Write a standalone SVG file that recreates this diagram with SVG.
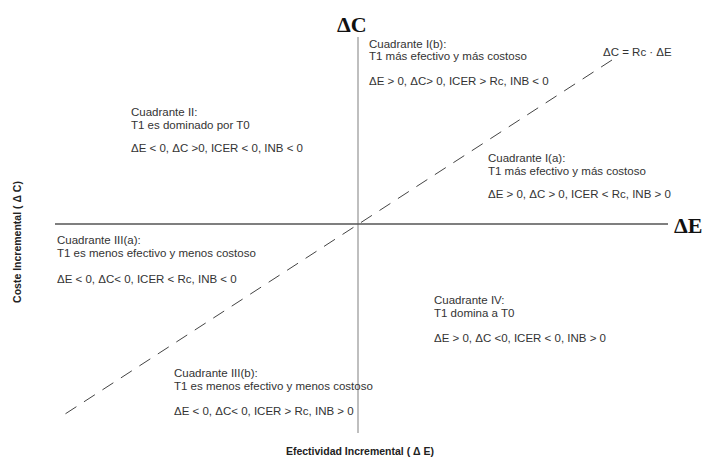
<svg xmlns="http://www.w3.org/2000/svg" width="704" height="459" viewBox="0 0 704 459">
<style>
.t{font-family:"Liberation Sans",Arial,sans-serif;font-size:11.5px;fill:#333}
.big{font-family:"Liberation Serif","Times New Roman",serif;font-size:22px;font-weight:bold;fill:#111}
.ax{font-family:"Liberation Sans",Arial,sans-serif;font-size:10.5px;font-weight:bold;fill:#222}
</style>
<rect width="704" height="459" fill="#fff"/>
<g id="connectors">
<line x1="358" y1="37" x2="358" y2="433" stroke="#aaa" stroke-width="1.5"/>
<line x1="55" y1="224" x2="668" y2="224" stroke="#555" stroke-width="1.5"/>
<line x1="612" y1="60" x2="62" y2="416" stroke="#444" stroke-width="1" stroke-dasharray="13,9"/>
</g>
<g id="axis-c"><text class="big" x="337" y="32">ΔC</text></g>
<g id="axis-e"><text class="big" x="674" y="233">ΔE</text></g>
<g id="line-label"><text class="t" x="603" y="56">ΔC = Rc · ΔE</text></g>
<g id="q1b">
<text class="t" x="369" y="48">Cuadrante I(b):</text>
<text class="t" x="369" y="60">T1 más efectivo y más costoso</text>
<text class="t" x="369" y="85">ΔE &gt; 0, ΔC&gt; 0, ICER &gt; Rc, INB &lt; 0</text>
</g>
<g id="q2">
<text class="t" x="131" y="116">Cuadrante II:</text>
<text class="t" x="131" y="129">T1 es dominado por T0</text>
<text class="t" x="131" y="152">ΔE &lt; 0, ΔC &gt;0, ICER &lt; 0, INB &lt; 0</text>
</g>
<g id="q1a">
<text class="t" x="488" y="162">Cuadrante I(a):</text>
<text class="t" x="488" y="175">T1 más efectivo y más costoso</text>
<text class="t" x="488" y="198">ΔE &gt; 0, ΔC &gt; 0, ICER &lt; Rc, INB &gt; 0</text>
</g>
<g id="q3a">
<text class="t" x="57" y="244">Cuadrante III(a):</text>
<text class="t" x="57" y="257">T1 es menos efectivo y menos costoso</text>
<text class="t" x="57" y="283">ΔE &lt; 0, ΔC&lt; 0, ICER &lt; Rc, INB &lt; 0</text>
</g>
<g id="q4">
<text class="t" x="434" y="304">Cuadrante IV:</text>
<text class="t" x="434" y="317">T1 domina a T0</text>
<text class="t" x="434" y="342">ΔE &gt; 0, ΔC &lt;0, ICER &lt; 0, INB &gt; 0</text>
</g>
<g id="q3b">
<text class="t" x="174" y="377">Cuadrante III(b):</text>
<text class="t" x="174" y="390">T1 es menos efectivo y menos costoso</text>
<text class="t" x="174" y="415">ΔE &lt; 0, ΔC&lt; 0, ICER &gt; Rc, INB &gt; 0</text>
</g>
<g id="x-label"><text class="ax" x="360" y="455" text-anchor="middle">Efectividad Incremental ( Δ E)</text></g>
<g id="y-label"><text class="ax" transform="translate(21,242) rotate(-90)" text-anchor="middle">Coste Incremental ( Δ C)</text></g>
</svg>
